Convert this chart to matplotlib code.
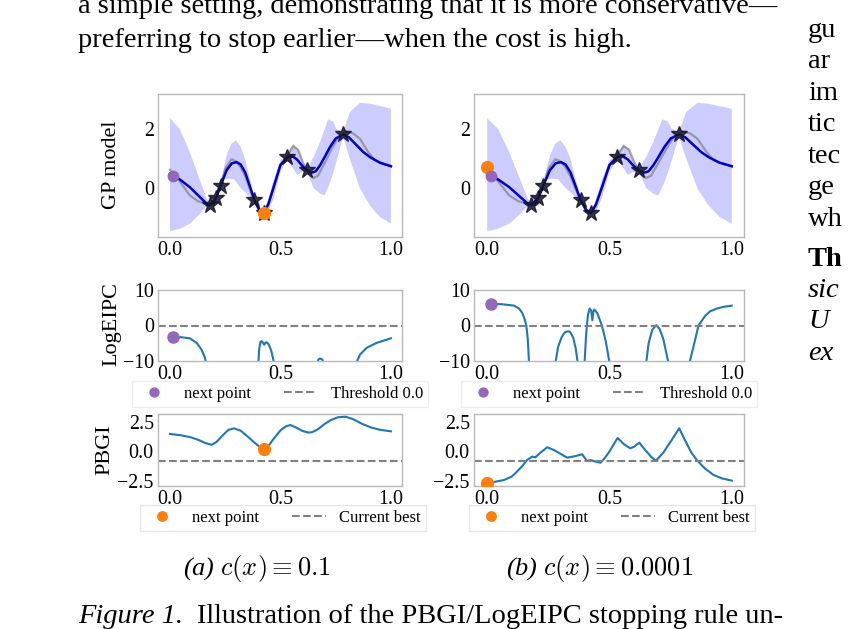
import numpy as np
import matplotlib.pyplot as plt

plt.rcParams['font.family'] = ['Liberation Serif', 'DejaVu Serif']
plt.rcParams['mathtext.fontset'] = 'cm'

# ---- GP model (same model in both columns) ----
mean_x = [0.00, 0.045, 0.09, 0.128, 0.166, 0.181, 0.208, 0.229, 0.256, 0.28, 0.302, 0.32,
          0.34, 0.36, 0.382, 0.405, 0.425, 0.445, 0.468, 0.50, 0.531, 0.55, 0.575, 0.60,
          0.621, 0.641, 0.66, 0.679, 0.70, 0.724, 0.75, 0.784, 0.81, 0.845, 0.875, 0.905,
          0.95, 1.00]
mean_y = [0.49, 0.29, 0.03, -0.25, -0.53, -0.58, -0.35, 0.07, 0.60, 0.84, 0.88, 0.80,
          0.54, 0.10, -0.41, -0.75, -0.85, -0.55, 0.00, 0.78, 1.04, 1.10, 0.97, 0.74,
          0.60, 0.52, 0.57, 0.77, 1.05, 1.39, 1.68, 1.82, 1.72, 1.45, 1.22, 1.05,
          0.86, 0.74]

upper_x = [0.00, 0.045, 0.09, 0.128, 0.166, 0.181, 0.195, 0.208, 0.22, 0.229, 0.256, 0.278,
           0.299, 0.32, 0.34, 0.36, 0.382, 0.40, 0.425, 0.445, 0.468, 0.50, 0.531, 0.558,
           0.58, 0.60, 0.621, 0.65, 0.679, 0.716, 0.74, 0.754, 0.784, 0.814, 0.86, 0.905,
           0.95, 1.00]
upper_y = [2.37, 2.00, 1.22, 0.43, -0.36, -0.50, -0.25, -0.27, 0.00, 0.15, 1.10, 1.50,
           1.62, 1.40, 1.00, 0.35, -0.33, -0.65, -0.77, -0.40, 0.25, 0.95, 1.12, 1.50,
           1.30, 0.85, 0.68, 1.05, 1.56, 2.33, 2.25, 2.00, 1.90, 2.58, 2.89, 2.86,
           2.78, 2.69]

lower_x = [0.00, 0.045, 0.09, 0.128, 0.166, 0.181, 0.195, 0.208, 0.22, 0.229, 0.241, 0.264,
           0.29, 0.317, 0.362, 0.382, 0.40, 0.425, 0.445, 0.468, 0.50, 0.531, 0.555, 0.575,
           0.60, 0.621, 0.65, 0.68, 0.70, 0.72, 0.74, 0.784, 0.814, 0.86, 0.905, 0.95, 1.00]
lower_y = [-1.47, -1.38, -1.21, -0.93, -0.62, -0.66, -0.45, -0.43, -0.20, -0.01, 0.29, 0.32,
           0.30, 0.03, -0.30, -0.49, -0.85, -0.93, -0.80, -0.35, 0.55, 0.96, 0.70, 0.45,
           0.55, 0.54, 0.00, -0.19, -0.25, 0.10, 0.54, 1.74, 0.99, -0.02, -0.59, -0.98, -1.21]

true_x = [0.00, 0.02, 0.045, 0.09, 0.128, 0.166, 0.181, 0.208, 0.229, 0.25, 0.279, 0.30,
          0.32, 0.34, 0.36, 0.382, 0.405, 0.425, 0.445, 0.468, 0.50, 0.531, 0.558, 0.58,
          0.60, 0.621, 0.649, 0.67, 0.70, 0.73, 0.76, 0.784, 0.80, 0.83, 0.86, 0.897,
          0.928, 0.96, 1.00]
true_y = [0.62, 0.45, 0.22, -0.25, -0.45, -0.53, -0.58, -0.35, 0.07, 0.65, 0.98, 0.90,
          0.70, 0.40, 0.00, -0.41, -0.75, -0.85, -0.55, 0.00, 0.80, 1.10, 1.42, 1.30,
          0.90, 0.55, 0.34, 0.42, 0.85, 1.30, 1.70, 1.85, 1.93, 1.85, 1.67, 1.22,
          0.94, 0.84, 0.74]

obs_x = [0.181, 0.208, 0.229, 0.382, 0.425, 0.531, 0.621, 0.784]
obs_y = [-0.58, -0.35, 0.07, -0.41, -0.85, 1.04, 0.61, 1.82]

# next points per column: (logeipc x, gp y, logeipc y), (pbgi x, gp y, pbgi y)
eipc_next = {'a': (0.012, 0.40, -3.2), 'b': (0.016, 0.42, 6.1)}
pbgi_next = {'a': (0.425, -0.85, 0.23), 'b': (0.0, 0.72, -2.72)}

# ---- LogEIPC ----
eipc_a_x = [0.00, 0.012, 0.05, 0.09, 0.121, 0.143, 0.158, 0.163, 0.17, 0.39, 0.40, 0.404,
            0.41, 0.415, 0.421, 0.427, 0.431, 0.437, 0.447, 0.458, 0.471, 0.48, 0.66,
            0.667, 0.672, 0.679, 0.688, 0.695, 0.70, 0.84, 0.845, 0.86, 0.89, 0.935, 1.00]
eipc_a_y = [-3.1, -3.2, -3.3, -3.6, -4.9, -6.8, -9.0, -10.5, -40, -40, -10.5, -6.5,
            -4.6, -4.4, -4.9, -5.4, -4.9, -4.7, -5.3, -7.0, -10.5, -40, -40,
            -10.3, -9.6, -9.3, -9.5, -10.3, -40, -40, -10.3, -8.2, -6.3, -4.9, -3.6]

eipc_b_x = [0.00, 0.018, 0.06, 0.11, 0.13, 0.143, 0.152, 0.16, 0.166, 0.171, 0.18, 0.27,
            0.279, 0.29, 0.305, 0.318, 0.331, 0.34, 0.352, 0.362, 0.37, 0.38, 0.39,
            0.398, 0.405, 0.412, 0.419, 0.425, 0.43, 0.434, 0.438, 0.45, 0.469, 0.485,
            0.50, 0.51, 0.64, 0.65, 0.66, 0.675, 0.691, 0.705, 0.72, 0.741, 0.75, 0.82,
            0.827, 0.844, 0.864, 0.89, 0.911, 0.94, 0.97, 1.00]
eipc_b_y = [6.1, 6.1, 6.0, 5.6, 4.8, 3.6, 2.0, 0.0, -4.0, -10.5, -40, -40,
            -10.5, -6.0, -3.2, -1.9, -1.6, -1.9, -3.5, -6.5, -10.5, -40, -40,
            -10.5, -2.0, 3.0, 4.8, 4.2, 1.5, 4.0, 4.5, 3.5, 0.0, -4.5,
            -10.5, -40, -40, -10.5, -5.0, -1.2, 0.1, -1.0, -3.8, -10.5, -40, -40,
            -10.5, -5.8, 0.0, 2.6, 4.0, 4.8, 5.3, 5.6]

# ---- PBGI ----
pbgi_a_x = [0.00, 0.05, 0.095, 0.13, 0.16, 0.188, 0.21, 0.24, 0.265, 0.29, 0.32, 0.35,
            0.38, 0.405, 0.425, 0.445, 0.47, 0.50, 0.525, 0.545, 0.57, 0.60, 0.625, 0.643,
            0.67, 0.70, 0.73, 0.76, 0.794, 0.83, 0.87, 0.91, 0.95, 1.00]
pbgi_a_y = [1.50, 1.38, 1.21, 0.98, 0.72, 0.57, 0.80, 1.40, 1.85, 1.97, 1.78, 1.30,
            0.80, 0.40, 0.23, 0.45, 1.10, 1.80, 2.15, 2.26, 2.05, 1.75, 1.62, 1.64,
            1.90, 2.35, 2.70, 2.92, 2.97, 2.75, 2.35, 2.05, 1.85, 1.72]

pbgi_b_x = [0.00, 0.068, 0.10, 0.122, 0.145, 0.163, 0.184, 0.197, 0.215, 0.245, 0.272, 0.30,
            0.327, 0.36, 0.388, 0.408, 0.422, 0.44, 0.463, 0.48, 0.50, 0.533, 0.56, 0.585,
            0.60, 0.622, 0.645, 0.67, 0.69, 0.72, 0.755, 0.785, 0.81, 0.835, 0.857, 0.89,
            0.925, 0.96, 1.00]
pbgi_b_y = [-2.72, -2.44, -2.15, -1.72, -1.20, -0.73, -0.44, -0.50, -0.15, 0.36, 0.13, -0.20,
            -0.53, -0.40, -0.24, -0.81, -0.73, -0.85, -0.96, -0.58, 0.00, 1.15, 0.60, 0.27,
            0.40, 0.75, 0.15, -0.45, -0.79, -0.10, 1.00, 1.98, 0.90, -0.10, -0.73, -1.45,
            -2.00, -2.30, -2.49]

eipc_curves = {'a': (eipc_a_x, eipc_a_y), 'b': (eipc_b_x, eipc_b_y)}
pbgi_curves = {'a': (pbgi_a_x, pbgi_a_y), 'b': (pbgi_b_x, pbgi_b_y)}
threshold = 0.0
current_best = -0.78

W, H = 859, 629
fig = plt.figure(figsize=(W / 100, H / 100), dpi=100)


def place(l, t, r, b):
    return fig.add_axes([l / W, 1 - b / H, (r - l) / W, (b - t) / H])


def style(ax):
    for s in ax.spines.values():
        s.set_color('#b8b8b8')
        s.set_linewidth(1.0)
    ax.tick_params(length=0, labelsize=14.4, pad=3)
    ax.set_xlim(-0.054, 1.05)
    ax.set_xticks([0, 0.5, 1.0])
    ax.set_xticklabels(['0.0', '0.5', '1.0'])


cols = {'a': (158, 402), 'b': (474, 744)}
purple, orange = '#9467bd', '#ff7f0e'

for key, (l, r) in cols.items():
    # GP model
    ax = place(l, 94, r, 237)
    style(ax)
    ax.fill(np.r_[upper_x, lower_x[::-1]], np.r_[upper_y, lower_y[::-1]],
            color='blue', alpha=0.2, lw=0, zorder=1)
    ax.plot(true_x, true_y, color='gray', lw=1.6, alpha=0.7, zorder=2)
    ax.plot(mean_x, mean_y, color='#0000c8', lw=1.8, zorder=3)
    ax.plot(obs_x, obs_y, '*', color='#15152a', ms=12, alpha=0.85, zorder=4)
    ex, ey, _ = eipc_next[key]
    px, py, _ = pbgi_next[key]
    ax.plot([px], [py], 'o', color=orange, ms=8.5, zorder=5)
    ax.plot([ex], [ey], 'o', color=purple, ms=7.5, zorder=6)
    ax.set_ylim(-1.66, 3.19)
    ax.set_yticks([0, 2])

    # LogEIPC
    ax = place(l, 290, r, 361)
    style(ax)
    cx, cy = eipc_curves[key]
    ax.plot(cx, cy, color='#1f77b4', lw=1.5)
    pt, = ax.plot([ex], [eipc_next[key][2]], 'o', color=purple, ms=8, label='next point')
    th = ax.axhline(threshold, color='gray', ls='--', lw=1.5, label='Threshold 0.0')
    ax.set_ylim(-10, 10)
    ax.set_yticks([-10, 0, 10])
    ax.legend(handles=[pt, th], loc='center', ncol=2, fontsize=12,
              bbox_to_anchor=((l + r) / 2 / W, 1 - 394 / H), bbox_transform=fig.transFigure,
              frameon=True, fancybox=False, edgecolor='#eeeeee', framealpha=1,
              markerscale=0.8, borderpad=0.3)

    # PBGI
    ax = place(l, 414, r, 486)
    style(ax)
    cx, cy = pbgi_curves[key]
    ax.plot(cx, cy, color='#1f77b4', lw=1.5)
    pt, = ax.plot([px], [pbgi_next[key][2]], 'o', color=orange, ms=8.5, label='next point', zorder=5)
    cb = ax.axhline(current_best, color='gray', ls='--', lw=1.5, label='Current best')
    ax.set_ylim(-2.95, 3.2)
    ax.set_yticks([-2.5, 0.0, 2.5])
    ax.set_yticklabels(['\u22122.5', '0.0', '2.5'])
    ax.legend(handles=[pt, cb], loc='center', ncol=2, fontsize=12,
              bbox_to_anchor=((l + r) / 2 / W + 3 / W, 1 - 518 / H), bbox_transform=fig.transFigure,
              frameon=True, fancybox=False, edgecolor='#e6e6e6', framealpha=1,
              markerscale=0.8, borderpad=0.3)

# row labels
for text, x, y in [('GP model', 112, 165), ('LogEIPC', 112, 324), ('PBGI', 105, 450)]:
    fig.text(x / W, 1 - y / H, text, rotation=90, ha='center', va='center', fontsize=16)

# sub captions
fig.text(257 / W, 1 - 568 / H, '(a) $c(x) \\equiv 0.1$', style='italic', ha='center',
         va='center', fontsize=19)
fig.text(600 / W, 1 - 568 / H, '(b) $c(x) \\equiv 0.0001$', style='italic', ha='center',
         va='center', fontsize=19)

# surrounding page text
body = 20.5
fig.text(78 / W, 1 - 13 / H, 'a simple setting, demonstrating that it is more conservative\u2014',
         fontsize=body, va='baseline')
fig.text(78 / W, 1 - 47 / H, 'preferring to stop earlier\u2014when the cost is high.',
         fontsize=body, va='baseline')

right_col = [('gu', 'normal', 'normal', 37), ('ar', 'normal', 'normal', 68),
             ('im', 'normal', 'normal', 100), ('tic', 'normal', 'normal', 131),
             ('tec', 'normal', 'normal', 163), ('ge', 'normal', 'normal', 194),
             ('wh', 'normal', 'normal', 226), ('Th', 'bold', 'normal', 266),
             ('sic', 'normal', 'italic', 297), ('U', 'normal', 'italic', 328),
             ('ex', 'normal', 'italic', 360)]
for s, wt, st, yb in right_col:
    fig.text(808 / W, 1 - yb / H, s, fontsize=body, fontweight=wt, style=st, va='baseline')

fig_lbl = fig.text(78 / W, 1 - 623 / H, 'Figure 1.', style='italic', fontsize=body, va='baseline')
rend = fig.canvas.get_renderer()
bb = fig_lbl.get_window_extent(renderer=rend)
fig.text((bb.x1 + 14) / W, 1 - 623 / H, 'Illustration of the PBGI/LogEIPC stopping rule un-',
         fontsize=body, va='baseline')

fig.savefig('out.png', dpi=100)
